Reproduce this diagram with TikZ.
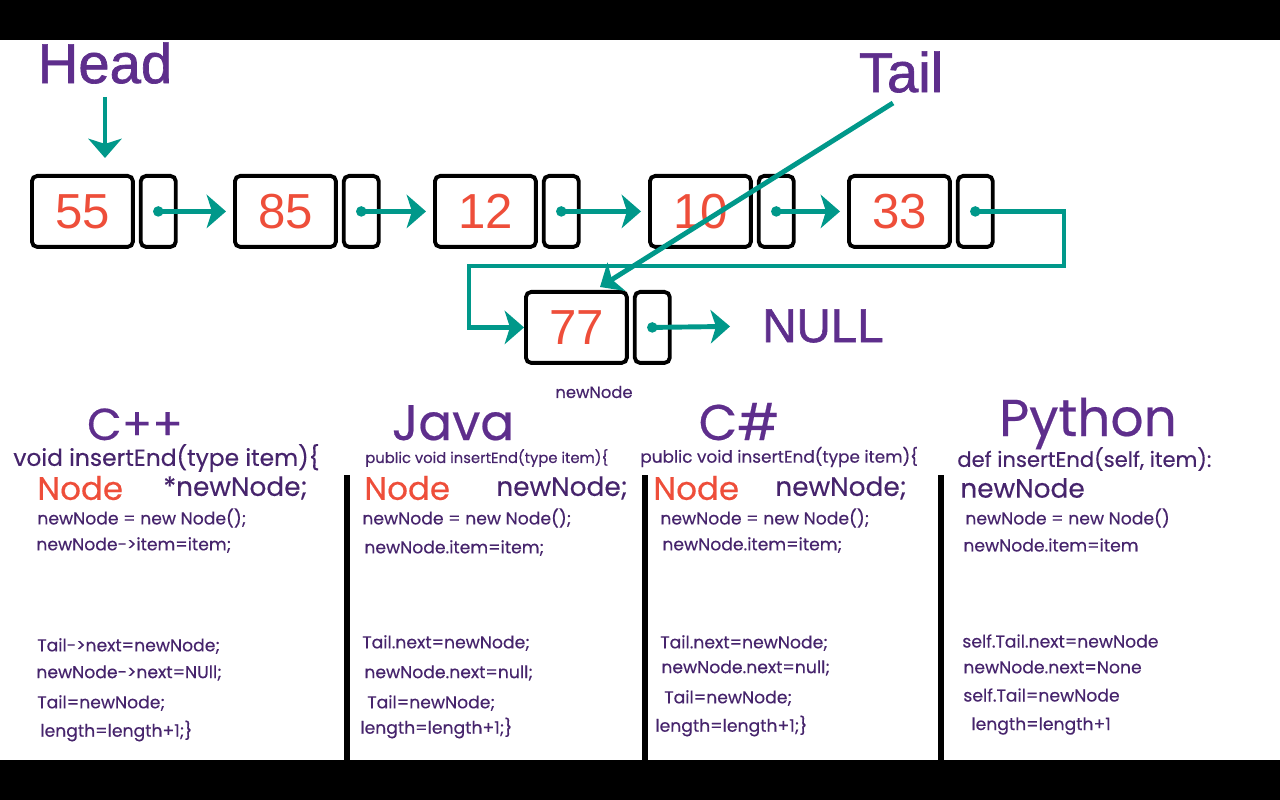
\documentclass[tikz,border=0pt]{standalone}
\usepackage{fontspec}
\setmainfont{Poppins}[FakeBold=0.4]
\newfontfamily\arialfont{Liberation Sans}
\newfontfamily\arialmed{Liberation Sans}[FakeBold=1.2]
\usetikzlibrary{arrows.meta, positioning}
\definecolor{linkteal}{RGB}{0,152,138}
\definecolor{headpurple}{RGB}{94,46,140}
\definecolor{codepurple}{RGB}{70,36,108}
\definecolor{numred}{RGB}{238,78,58}
\tikzset{
  databox/.style={rectangle, rounded corners=3pt, draw=black, line width=2.2pt, fill=white,
                  minimum width=2.02cm, minimum height=1.42cm, inner sep=0pt,
                  font=\arialfont\fontsize{28}{28}\selectfont, text=numred},
  ptrbox/.style={rectangle, rounded corners=3pt, draw=black, line width=2.2pt, fill=white,
                 minimum width=0.7cm, minimum height=1.42cm, inner sep=0pt},
  link/.style={draw=linkteal, line width=2.8pt, -{Stealth[length=11pt, width=19pt, inset=3pt]}},
  ptrdot/.style={circle, fill=linkteal, inner sep=0pt, minimum size=6pt},
  bigword/.style={font=\arialmed\fontsize{32}{32}\selectfont, text=headpurple, inner sep=0pt},
  lang/.style={anchor=base, font=\fontsize{28.5}{28.5}\selectfont, text=headpurple, inner sep=0pt, text depth=0pt},
  sig/.style={anchor=west, text=codepurple, inner sep=0pt},
  code/.style={anchor=west, font=\fontsize{9.8}{9.8}\selectfont, text=codepurple, inner sep=0pt},
  decl/.style={anchor=west, font=\fontsize{15}{15}\selectfont, text=codepurple, inner sep=0pt},
  redtype/.style={anchor=west, font=\fontsize{18.5}{18.5}\selectfont, text=numred, inner sep=0pt},
  divider/.style={line width=3.8pt, black},
}

\begin{document}
\begin{tikzpicture}[x=0.02cm, y=-0.02cm]
\useasboundingbox (0,0) rectangle (1280,800);
\fill[black] (0,0) rectangle (1280,40);
\fill[black] (0,760) rectangle (1280,800);

% the list
\foreach \v/\x in {55/30, 85/233, 12/433, 10/648, 33/847} {
  \node[databox, anchor=north west] (d\v) at (\x,174) {\v};
  \node[ptrbox, right=0.08cm of d\v] (p\v) {};
}
\node[databox, anchor=north west] (d77) at (524,290) {77};
\node[ptrbox, right=0.08cm of d77] (p77) {};
\node[font=\fontsize{9.3}{9.3}\selectfont, text=codepurple] (newlbl) at (594,392) {newNode};

\node[bigword] (head) at (105,63) {Head};
\node[bigword] (tail) at (901,72) {Tail};
\node[bigword, anchor=west, font=\arialmed\fontsize{27}{27}\selectfont] (null) at (762,326) {NULL};
\coordinate (tailfrom) at (893,103);
\coordinate (tailto) at (600,287);
\coordinate (bendR) at (1064,266);
\coordinate (bendL) at (469,266);

\draw[link, shorten <=0.26cm, shorten >=0.32cm] (head.south) -- (head.south |- d55.north);
\foreach \a/\b in {55/85, 85/12, 12/10, 10/33} {
  \node[ptrdot] at (p\a.center) {};
  \draw[link, shorten >=0.14cm] (p\a.center) -- (d\b.west);
}
\node[ptrdot] at (p33.center) {};
\draw[link] (p33.center) -| (bendR) -- (bendL) |- (d77.west);
\node[ptrdot] at (p77.center) {};
\draw[link, shorten >=0.64cm] (p77.center) -- (null.west);
\draw[link] (tailfrom) -- (tailto);

% code columns
\draw[divider] (347,475) -- (347,760);
\draw[divider] (645,475) -- (645,760);
\draw[divider] (941,475) -- (941,760);

\node[lang, font=\fontsize{25.5}{25.5}\selectfont] (cpp) at (135,440) {C++};
\node[lang] (java) at (453,440) {Java};
\node[lang] (csharp) at (739,440) {C\#};
\node[lang, font=\fontsize{29.5}{29.5}\selectfont] (python) at (1088,436) {Python};

\node[sig, font=\fontsize{13.3}{13.3}\selectfont] at (13,458) {void insertEnd(type item)\{};
\node[redtype] at (37,488) {Node};
\node[decl] at (163,488) {*newNode;};
\node[code] at (37,518) {newNode = new Node();};
\node[code] at (36,545) {newNode->item=item;};
\node[code] at (37,646) {Tail->next=newNode;};
\node[code] at (36,673) {newNode->next=NUll;};
\node[code] at (37,703) {Tail=newNode;};
\node[code] at (40,731) {length=length+1;\}};

\node[sig, font=\fontsize{8.4}{8.4}\selectfont] at (365,458) {public void insertEnd(type item)\{};
\node[redtype] at (364,488) {Node};
\node[decl] at (496,488) {newNode;};
\node[code] at (362,518) {newNode = new Node();};
\node[code] at (364,548) {newNode.item=item;};
\node[code] at (362,643) {Tail.next=newNode;};
\node[code] at (364,673) {newNode.next=null;};
\node[code] at (367,703) {Tail=newNode;};
\node[code] at (360,728) {length=length+1;\}};

\node[sig, font=\fontsize{9.6}{9.6}\selectfont] at (640,457) {public void insertEnd(type item)\{};
\node[redtype] at (653,488) {Node};
\node[decl] at (775,488) {newNode;};
\node[code] at (660,518) {newNode = new Node();};
\node[code] at (662,545) {newNode.item=item;};
\node[code] at (660,643) {Tail.next=newNode;};
\node[code] at (661,668) {newNode.next=null;};
\node[code] at (664,698) {Tail=newNode;};
\node[code] at (655,726) {length=length+1;\}};

\node[sig, font=\fontsize{12}{12}\selectfont] at (957,459) {def insertEnd(self, item):};
\node[decl] at (960,488) {newNode};
\node[code] at (965,518) {newNode = new Node()};
\node[code] at (963,545) {newNode.item=item};
\node[code] at (962,641) {self.Tail.next=newNode};
\node[code] at (963,667) {newNode.next=None};
\node[code] at (963,695) {self.Tail=newNode};
\node[code] at (971,726) {length=length+1};
\end{tikzpicture}
\end{document}
